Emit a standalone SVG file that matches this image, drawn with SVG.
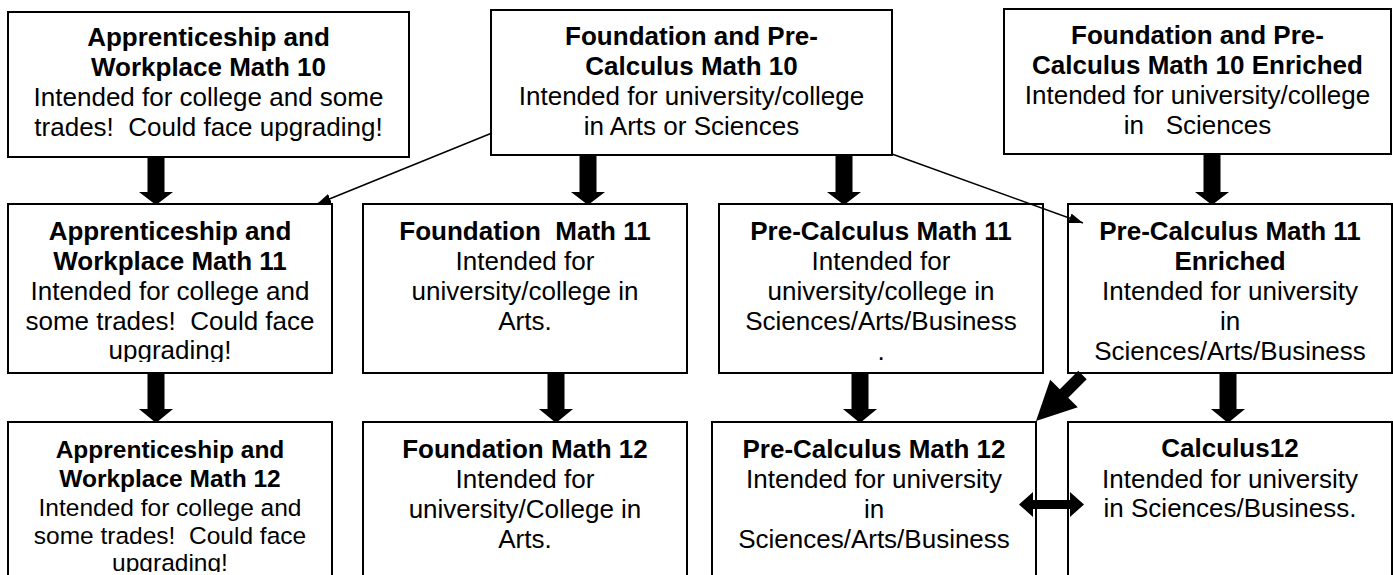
<svg xmlns="http://www.w3.org/2000/svg" width="1393" height="575" viewBox="0 0 1393 575">
<style>
.box{fill:#fff;stroke:#000;stroke-width:2}
text{font-family:"Liberation Sans",Arial,sans-serif;font-size:26px;fill:#000;text-anchor:middle;white-space:pre}
.t{font-weight:bold}
.sm{font-size:24.5px}
.blk{fill:#000;stroke:none}
.thin{stroke:#000;stroke-width:1.5;fill:none}
</style>
<defs>
<marker id="ah" viewBox="0 0 14 10" refX="14" refY="5" markerWidth="14" markerHeight="10" markerUnits="userSpaceOnUse" orient="auto">
<path d="M0,0 L14,5 L0,10 z" fill="#000"/>
</marker>
<clipPath id="c1"><rect x="8" y="204" width="324" height="158"/></clipPath>
<clipPath id="c2"><rect x="8" y="422" width="324" height="150"/></clipPath>
</defs>

<g id="n-aw10">
<rect class="box" x="8" y="12" width="401" height="145"/>
<text x="208.5" y="46" class="t">Apprenticeship and</text>
<text x="208.5" y="76" class="t">Workplace Math 10</text>
<text x="208.5" y="106">Intended for college and some</text>
<text x="208.5" y="136">trades!  Could face upgrading!</text>
</g>

<g id="n-fpc10">
<rect class="box" x="491" y="10" width="401" height="145"/>
<text x="691.5" y="45" class="t">Foundation and Pre-</text>
<text x="691.5" y="75" class="t">Calculus Math 10</text>
<text x="691.5" y="105">Intended for university/college</text>
<text x="691.5" y="135">in Arts or Sciences</text>
</g>

<g id="n-fpc10e">
<rect class="box" x="1004" y="9" width="387" height="145"/>
<text x="1197.5" y="44" class="t">Foundation and Pre-</text>
<text x="1197.5" y="74" class="t">Calculus Math 10 Enriched</text>
<text x="1197.5" y="104">Intended for university/college</text>
<text x="1197.5" y="134">in   Sciences</text>
</g>

<g id="n-aw11">
<rect class="box" x="8" y="204" width="324" height="169"/>
<g clip-path="url(#c1)">
<text x="170" y="240" class="t">Apprenticeship and</text>
<text x="170" y="270" class="t">Workplace Math 11</text>
<text x="170" y="300">Intended for college and</text>
<text x="170" y="330">some trades!  Could face</text>
<text x="170" y="359">upgrading!</text>
</g>
</g>

<g id="n-f11">
<rect class="box" x="363" y="204" width="324" height="169"/>
<text x="525" y="240" class="t">Foundation  Math 11</text>
<text x="525" y="270">Intended for</text>
<text x="525" y="300">university/college in</text>
<text x="525" y="330">Arts.</text>
</g>

<g id="n-pc11">
<rect class="box" x="719" y="204" width="324" height="169"/>
<text x="881" y="240" class="t">Pre-Calculus Math 11</text>
<text x="881" y="270">Intended for</text>
<text x="881" y="300">university/college in</text>
<text x="881" y="330">Sciences/Arts/Business</text>
<text x="881" y="360">.</text>
</g>

<g id="n-pc11e">
<rect class="box" x="1068" y="204" width="324" height="169"/>
<text x="1230" y="240" class="t">Pre-Calculus Math 11</text>
<text x="1230" y="270" class="t">Enriched</text>
<text x="1230" y="300">Intended for university</text>
<text x="1230" y="330">in</text>
<text x="1230" y="360">Sciences/Arts/Business</text>
</g>

<g id="n-aw12">
<rect class="box" x="8" y="422" width="324" height="180"/>
<g clip-path="url(#c2)">
<text x="170" y="458" class="t sm">Apprenticeship and</text>
<text x="170" y="487" class="t sm">Workplace Math 12</text>
<text x="170" y="516" class="sm">Intended for college and</text>
<text x="170" y="544" class="sm">some trades!  Could face</text>
<text x="170" y="571" class="sm">upgrading!</text>
</g>
</g>

<g id="n-f12">
<rect class="box" x="363" y="422" width="324" height="180"/>
<text x="525" y="458" class="t">Foundation Math 12</text>
<text x="525" y="488">Intended for</text>
<text x="525" y="518">university/College in</text>
<text x="525" y="548">Arts.</text>
</g>

<g id="n-pc12">
<rect class="box" x="712" y="422" width="324" height="180"/>
<text x="874" y="458" class="t">Pre-Calculus Math 12</text>
<text x="874" y="488">Intended for university</text>
<text x="874" y="518">in</text>
<text x="874" y="548">Sciences/Arts/Business</text>
</g>

<g id="n-calc12">
<rect class="box" x="1068" y="422" width="324" height="180"/>
<text x="1230" y="457" class="t">Calculus12</text>
<text x="1230" y="488">Intended for university</text>
<text x="1230" y="517">in Sciences/Business.</text>
</g>

<g id="connectors">
<polygon class="blk" points="147.5,157 164.5,157 164.5,192 173,192 156,205 139,192 147.5,192"/>
<polygon class="blk" points="579.5,155 596.5,155 596.5,192 605,192 588,205 571,192 579.5,192"/>
<polygon class="blk" points="835.5,155 852.5,155 852.5,192 861,192 844,205 827,192 835.5,192"/>
<polygon class="blk" points="1203.5,154 1220.5,154 1220.5,192 1229,192 1212,205 1195,192 1203.5,192"/>
<polygon class="blk" points="147.5,373 164.5,373 164.5,409 173,409 156,423 139,409 147.5,409"/>
<polygon class="blk" points="547.5,373 564.5,373 564.5,409 573,409 556,423 539,409 547.5,409"/>
<polygon class="blk" points="851.5,373 868.5,373 868.5,409 877,409 860,423 843,409 851.5,409"/>
<polygon class="blk" points="1219.5,373 1236.5,373 1236.5,409 1245,409 1228,423 1211,409 1219.5,409"/>
<polygon class="blk" points="1036,421 1050.2,379.7 1059.8,389.3 1078.3,370.8 1086.7,379.2 1068.2,397.7 1077.8,407.3"/>
<polygon class="blk" points="1019,504.5 1033,492 1033,500 1070,500 1070,492 1084,504.5 1070,517 1070,509 1033,509 1033,517"/>
<line class="thin" x1="492" y1="133" x2="317" y2="204" marker-end="url(#ah)"/>
<line class="thin" x1="892" y1="154" x2="1083" y2="223" marker-end="url(#ah)"/>
</g>
</svg>
